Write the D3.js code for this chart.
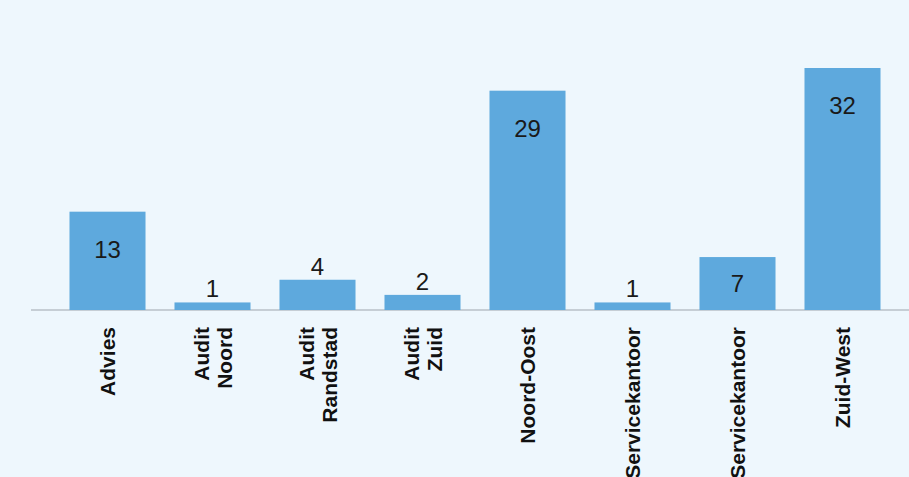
<!DOCTYPE html>
<html>
<head>
<meta charset="utf-8">
<script src="https://cdn.jsdelivr.net/npm/d3@7"></script>
<style>
  html, body { margin: 0; padding: 0; background: #eef7fd; overflow: hidden; }
  svg { display: block; }
</style>
</head>
<body>
<svg id="chart" width="909" height="477"></svg>
<script>
// Department names (each entry is split into lines for the rotated axis labels)
const categories = [
  ["Advies"],
  ["Audit", "Noord"],
  ["Audit", "Randstad"],
  ["Audit", "Zuid"],
  ["Noord-Oost"],
  ["Servicekantoor"],
  ["Servicekantoor"],
  ["Zuid-West"]
];
const values = [13, 1, 4, 2, 29, 1, 7, 32];
const yDomain = [0, 32];

const width = 909, height = 477;
const baseY = 310, topY = 68;

const svg = d3.select("#chart");

const keys = categories.map((c, i) => i);
const x = d3.scaleBand()
  .domain(keys)
  .range([55, 895])
  .paddingInner(0.276)
  .paddingOuter(0.138);

const y = d3.scaleLinear().domain(yDomain).range([baseY, topY]);

// baseline
svg.append("line")
  .attr("x1", 31).attr("x2", width)
  .attr("y1", y(0)).attr("y2", y(0))
  .attr("stroke", "#b9c0c7")
  .attr("stroke-width", 1.3);

// bars
svg.append("g").selectAll("rect")
  .data(values)
  .join("rect")
  .attr("x", (d, i) => x(i))
  .attr("width", x.bandwidth())
  .attr("y", d => y(d))
  .attr("height", d => y(0) - y(d))
  .attr("fill", "#5ea9dd");

// value labels: inside tall bars, above short ones
const labelFont = 24;
svg.append("g").selectAll("text")
  .data(values)
  .join("text")
  .attr("x", (d, i) => x(i) + x.bandwidth() / 2)
  .attr("y", d => {
    const h = y(0) - y(d);
    if (h < 40) return y(d) - 5;
    return Math.min(y(d) + 46, y(d) + h / 2 + labelFont * 0.36);
  })
  .attr("text-anchor", "middle")
  .attr("font-family", "'Liberation Sans', Arial, sans-serif")
  .attr("font-size", labelFont)
  .attr("fill", "#1a1a1a")
  .text(d => d);

// rotated category labels
const catFont = 21, lineH = 23;
const catG = svg.append("g");
categories.forEach((lines, i) => {
  const cx = x(i) + x.bandwidth() / 2;
  const n = lines.length;
  const t = catG.append("text")
    .attr("transform", `translate(${cx},327) rotate(-90)`)
    .attr("text-anchor", "end")
    .attr("font-family", "'Liberation Sans', Arial, sans-serif")
    .attr("font-weight", "bold")
    .attr("font-size", catFont)
    .attr("fill", "#111");
  lines.forEach((ln, j) => {
    t.append("tspan")
      .attr("x", 0)
      .attr("y", (j - (n - 1) / 2) * lineH + catFont * 0.36)
      .text(ln);
  });
});
</script>
</body>
</html>
